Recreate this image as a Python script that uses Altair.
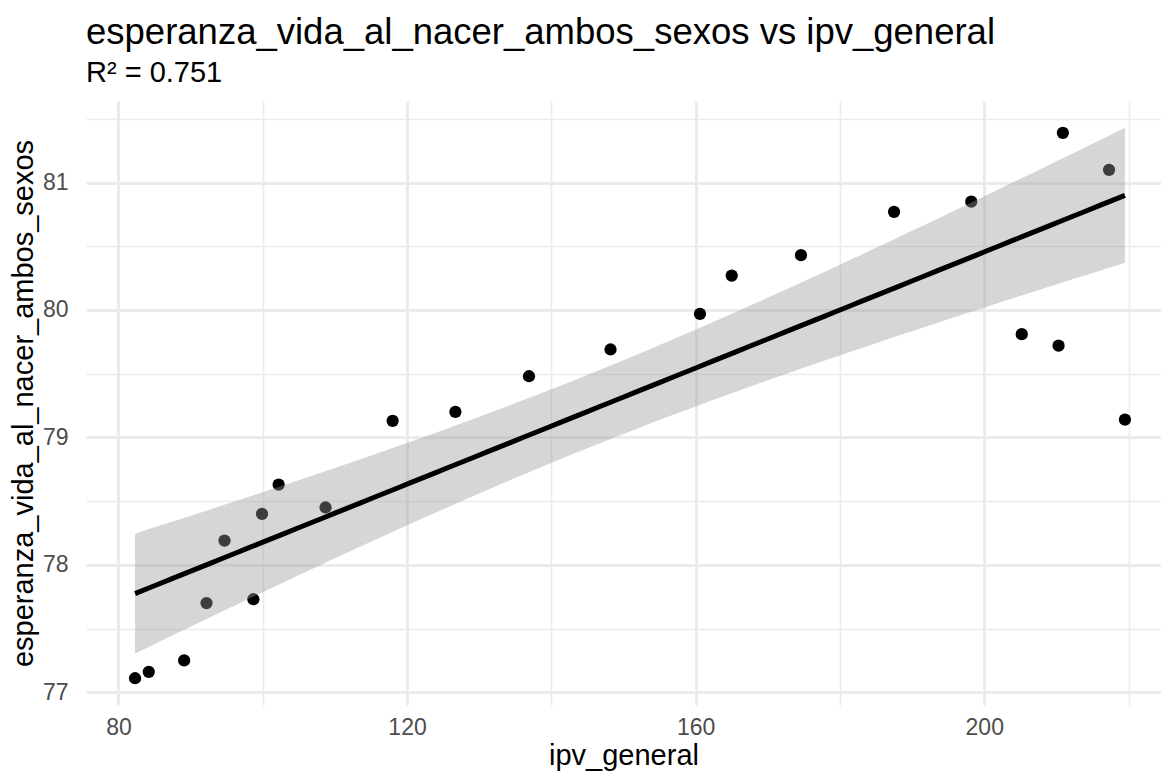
import altair as alt
import pandas as pd
import numpy as np

ipv_general = [82.3, 84.2, 89.1, 92.2, 94.7, 98.7, 99.9, 102.2, 108.7, 118.0, 126.7,
               136.9, 148.2, 160.6, 165.0, 174.6, 187.5, 198.2, 205.2, 210.3, 210.9,
               217.3, 219.5]
esperanza = [77.11, 77.16, 77.25, 77.70, 78.19, 77.73, 78.40, 78.63, 78.45, 79.13, 79.20,
             79.48, 79.69, 79.97, 80.27, 80.43, 80.77, 80.85, 79.81, 79.72, 81.39,
             81.10, 79.14]

x_grid_values = [80, 100, 120, 140, 160, 180, 200, 220]
y_grid_values = [77, 77.5, 78, 78.5, 79, 79.5, 80, 80.5, 81, 81.5]
subtitle_text = "R² = 0.751"
title_text = "esperanza_vida_al_nacer_ambos_sexos vs ipv_general"

pts = pd.DataFrame({"ipv_general": ipv_general, "esperanza": esperanza})

# linear fit with 95% confidence band (as geom_smooth(method="lm"))
x = np.array(ipv_general)
y = np.array(esperanza)
n = len(x)
b1, b0 = np.polyfit(x, y, 1)
resid = y - (b0 + b1 * x)
s = np.sqrt(np.sum(resid ** 2) / (n - 2))
xm = x.mean()
sxx = np.sum((x - xm) ** 2)
t_crit = 2.0796  # t(0.975, df=21)
xs = np.linspace(x.min(), x.max(), 80)
fit = b0 + b1 * xs
se = s * np.sqrt(1.0 / n + (xs - xm) ** 2 / sxx)
band = pd.DataFrame({"ipv_general": xs, "fit": fit, "lo": fit - t_crit * se, "hi": fit + t_crit * se})

FONT = "Liberation Sans"
xscale = alt.Scale(domain=[75.5, 224.5], nice=False, zero=False)
yscale = alt.Scale(domain=[76.9, 81.64], nice=False, zero=False)

grid_major = 3
grid_minor = 1.6

xaxis = alt.Axis(
    values=x_grid_values,
    labelExpr="datum.value % 40 == 0 ? format(datum.value, 'd') : ''",
    gridWidth={"condition": {"test": "datum.value % 40 == 0", "value": grid_major}, "value": grid_minor},
    title="ipv_general",
)
yaxis = alt.Axis(
    values=y_grid_values,
    labelExpr="datum.value % 1 == 0 ? format(datum.value, 'd') : ''",
    gridWidth={"condition": {"test": "datum.value % 1 == 0", "value": grid_major}, "value": grid_minor},
    title="esperanza_vida_al_nacer_ambos_sexos",
)

points = alt.Chart(pts).mark_circle(size=150, color="black", opacity=1).encode(
    x=alt.X("ipv_general:Q", scale=xscale, axis=xaxis),
    y=alt.Y("esperanza:Q", scale=yscale, axis=yaxis),
)

area = alt.Chart(band).mark_area(color="#999999", opacity=0.4).encode(
    x=alt.X("ipv_general:Q", scale=xscale),
    y=alt.Y("lo:Q", scale=yscale),
    y2="hi:Q",
)

line = alt.Chart(band).mark_line(color="black", strokeWidth=5).encode(
    x=alt.X("ipv_general:Q", scale=xscale),
    y=alt.Y("fit:Q", scale=yscale),
)

chart = (
    alt.layer(points, area, line)
    .properties(
        width=1075,
        height=604,
        autosize=alt.AutoSizeParams(type="none"),
        padding={"left": 78, "top": 93, "right": 0, "bottom": 67},
        title=alt.TitleParams(
            text=title_text,
            subtitle=subtitle_text,
            anchor="start",
            frame="group",
            font=FONT,
            subtitleFont=FONT,
            fontSize=36.5,
            subtitleFontSize=29,
            fontWeight="normal",
            color="black",
            subtitleColor="black",
            offset=13,
            subtitlePadding=8,
        ),
    )
    .configure_view(stroke=None)
    .configure_axis(
        domain=False,
        ticks=False,
        tickSize=0,
        gridColor="#EBEBEB",
        labelFont=FONT,
        labelFontSize=23,
        labelColor="#4D4D4D",
        titleFont=FONT,
        titleFontSize=29,
        titleFontWeight="normal",
        titleColor="black",
    )
    .configure_axisX(labelPadding=11, titlePadding=2)
    .configure_axisY(labelPadding=18, titlePadding=4)
)

chart.save("out.html", embed_options={"renderer": "svg", "actions": False})
